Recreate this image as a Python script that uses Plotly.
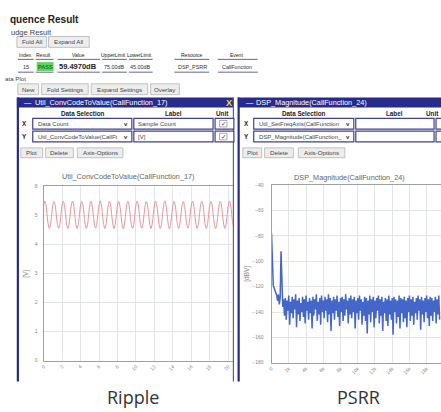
import plotly.graph_objects as go

W, H = 441, 412
UI = "Liberation Sans, Arial, sans-serif"

# ---------------- data ----------------
ripple_v = [
    5.35,5.49,5.36,5.02,4.68,4.55,4.69,5.03,
    5.36,5.48,5.35,5.01,4.69,4.56,4.68,5.02,
    5.35,5.49,5.34,5.03,4.69,4.55,4.70,5.02,
    5.36,5.49,5.35,5.02,4.68,4.54,4.69,5.01,
    5.35,5.48,5.36,5.03,4.69,4.55,4.68,5.02,
    5.34,5.49,5.35,5.02,4.70,4.56,4.69,5.03,
    5.35,5.50,5.36,5.01,4.69,4.55,4.68,5.02,
    5.36,5.49,5.35,5.02,4.68,4.55,4.69,5.02,
    5.35,5.48,5.34,5.03,4.69,4.54,4.70,5.01,
    5.36,5.49,5.35,5.02,4.69,4.55,4.69,5.02,
    5.35,5.49,5.36,5.02,4.68,4.56,4.68,5.03,
    5.34,5.48,5.35,5.01,4.69,4.55,4.69,5.02,
    5.36,5.49,5.35,5.03,4.70,4.55,4.68,5.02,
    5.35,5.50,5.36,5.02,4.69,4.54,4.69,5.01,
    5.35,5.49,5.35,5.02,4.68,4.55,4.70,5.02,
    5.36,5.48,5.34,5.03,4.69,4.56,4.69,5.02,
    5.35,5.49,5.35,5.02,4.69,4.55,4.68,5.01,
    5.34,5.49,5.36,5.02,4.68,4.55,4.69,5.03,
    5.36,5.48,5.35,5.01,4.69,4.54,4.69,5.02,
    5.35,5.49,5.36,5.02,4.70,4.55,4.68,5.02,
    5.35,5.49,5.35,5.03,4.69,4.56,4.69,5.02,
]
ripple_step = 0.125
ripple_xticks = [0, 2, 4, 6, 8, 10, 12, 14, 16, 18, 20]
ripple_yticks = [0, 1, 2, 3, 4, 5, 6]

psrr_db = [
    -78,-113,-119,-121,-123,-126,-127,-131,-126,-134,-129,-92,-127,-136,-130,-143,
    -129,-146,-131,-139,-127,-150,-132,-141,-128,-145,-130,-138,-126,-152,-131,-142,-129,-147,-133,-140,
    -128,-144,-130,-149,-127,-139,-132,-146,-129,-141,-131,-153,-128,-143,-130,-138,-126,-147,-132,-142,
    -129,-150,-127,-140,-131,-145,-128,-139,-130,-148,-126,-142,-129,-155,-131,-141,-128,-146,-130,-139,
    -127,-144,-132,-151,-129,-140,-128,-147,-130,-143,-126,-138,-131,-149,-129,-142,-127,-145,-130,-140,
    -128,-153,-131,-141,-129,-146,-127,-139,-130,-150,-132,-143,-128,-147,-129,-157,-131,-142,-127,-148,
    -130,-140,-128,-152,-131,-145,-129,-139,-127,-149,-130,-143,-128,-155,-132,-141,-129,-147,-130,-151,
    -127,-142,-131,-146,-129,-158,-128,-140,-130,-149,-131,-144,-127,-153,-129,-141,-130,-148,-128,-145,
    -131,-152,-129,-140,-127,-147,-130,-143,-128,-150,-132,-141,-129,-146,-127,-139,-130,-154,-128,-142,
    -131,-148,-129,-140,-127,-145,-130,-151,-128,-143,-129,-147,-131,-140,-128,-149,-130,-142,-127,-146,
]
psrr_step = 0.1
psrr_xticks = [0, 2, 4, 6, 8, 10, 12, 14, 16, 18]
psrr_xtext = ["0", "2k", "4k", "6k", "8k", "10k", "12k", "14k", "16k", "18k"]
psrr_yticks = [-40, -60, -80, -100, -120, -140, -160, -180]

result_headers = ["Index", "Result", "Value", "UpperLimit", "LowerLimit", "Resource", "Event"]
result_row = ["15", "PASS", "59.4970dB", "75.00dB", "45.00dB", "DSP_PSRR", "CallFunction"]

# ---------------- helpers ----------------
def X(p): return p / W
def Y(p): return 1 - p / H

shapes, annos = [], []

def rect(x0, y0, x1, y1, fill, lc=None, lw=1.0):
    shapes.append(dict(type="rect", xref="paper", yref="paper", layer="below",
                       x0=X(x0), x1=X(x1), y0=Y(y1), y1=Y(y0), fillcolor=fill,
                       line=dict(color=lc if lc else "rgba(0,0,0,0)", width=lw if lc else 0)))

def hline(x0, x1, y, color, w=1.0):
    shapes.append(dict(type="line", xref="paper", yref="paper", layer="below",
                       x0=X(x0), x1=X(x1), y0=Y(y), y1=Y(y), line=dict(color=color, width=w)))

def vline(x, y0, y1, color, w=1.0):
    shapes.append(dict(type="line", xref="paper", yref="paper", layer="below",
                       x0=X(x), x1=X(x), y0=Y(y0), y1=Y(y1), line=dict(color=color, width=w)))

def txt(x, y, s, size=6, color="#333", anchor="left", bold=False, family=UI, angle=0):
    annos.append(dict(xref="paper", yref="paper", x=X(x), y=Y(y), showarrow=False,
                      text=("<b>%s</b>" % s) if bold else s, xanchor=anchor, yanchor="middle",
                      textangle=angle, borderpad=0,
                      font=dict(size=size, color=color, family=family)))

def button(x0, y0, x1, y1, label):
    rect(x0, y0, x1, y1, "#ededed", "#b4b4b4", 0.8)
    txt((x0 + x1) / 2, (y0 + y1) / 2, label, 6.2, "#444", "center")

NAVY = "#272c8c"
CELL = "#3e4290"

# ---------------- top section ----------------
txt(5, 17, "quence Result", 10, "#222", bold=True)
txt(6, 29.5, "udge Result", 7.5, "#444")
button(13, 34, 43, 45, "Fold All")
button(45, 34, 86, 45, "Expand All")

col_c = [22, 40, 75, 111, 137, 190, 235]
col_span = [(14, 30), (32, 50), (54, 97), (99, 124), (126, 150), (172, 207), (216, 256)]
for c, h in zip(col_c, result_headers):
    txt(c, 52.5, h, 5.0, "#1a1a1a", "center")
for a, b in col_span:
    hline(a, b, 57.2, "#55577a", 0.9)
    hline(a, b, 70.2, "#55577a", 0.9)
rect(33, 60, 50, 69, "#5dd65d")
for i, (c, v) in enumerate(zip(col_c, result_row)):
    if i == 1:
        txt(c + 1.5, 64.6, v, 5.6, "#2d6b2d", "center", bold=True)
    elif i == 2:
        txt(c, 64.6, v, 7.5, "#222", "center", bold=True)
    else:
        txt(c, 64.6, v, 5.4, "#333", "center")

txt(0, 76.5, "ata Plot", 6.2, "#444")
button(14, 82, 35, 93, "New")
button(38, 82, 85, 93, "Fold Settings")
button(88, 82, 145, 93, "Expand Settings")
button(148, 82, 177, 93, "Overlay")

# ---------------- panels ----------------
rect(13, 96, 232, 384, "#ffffff")
rect(236, 96, 441, 384, "#ffffff")
rect(13, 96, 232, 106, NAVY)
rect(236, 96, 441, 106, NAVY)
vline(14, 96, 384, NAVY, 2.2)
vline(231.5, 96, 384, "#5b5f9e", 1.2)
vline(236.8, 96, 384, NAVY, 2.2)

txt(19, 101, "—", 7.3, "#ffffff")
txt(30, 101, "Util_ConvCodeToValue(CallFunction_17)", 7.3, "#ffffff")
txt(227, 101, "X", 9, "#f2e41c", "center", bold=True)
txt(243, 101, "—", 7.3, "#ffffff")
txt(253, 101, "DSP_Magnitude(CallFunction_24)", 7.3, "#ffffff")

# left data selection table
txt(80, 112, "Data Selection", 6.3, "#222", "center", bold=True)
txt(171, 112, "Label", 6.3, "#222", "center", bold=True)
txt(221, 112, "Unit", 6.3, "#222", "center", bold=True)
for (y0, y1, axl, sel, lab) in [(117, 128, "X", "Data Count", "Sample Count"),
                                (130, 141, "Y", "Util_ConvCodeToValue(CallFt", "[V]")]:
    yc = (y0 + y1) / 2
    txt(21, yc, axl, 6.3, "#222", "center", bold=True)
    rect(29, y0, 129, y1, "#ffffff", CELL, 1.2)
    txt(33, yc, sel, 6, "#444")
    txt(123, yc, "v", 6, "#333", "center", bold=True)
    rect(131, y0, 211, y1, "#ffffff", CELL, 1.2)
    txt(134, yc, lab, 6, "#444")
    rect(213, y0, 232, y1, "#ffffff", CELL, 1.2)
    rect(217.5, y0 + 2.2, 225, y1 - 2.2, "#ffffff", "#8a8a8a", 0.7)
    txt(221.3, yc, "✓", 6.5, "#333", "center", family="DejaVu Sans")
button(17, 147, 39, 157, "Plot")
button(42, 147, 70, 157, "Delete")
button(74, 147, 120, 157, "Axis-Options")

# right data selection table
txt(303, 112, "Data Selection", 6.3, "#222", "center", bold=True)
txt(394, 112, "Label", 6.3, "#222", "center", bold=True)
txt(440, 112, "Unit", 6.3, "#222", "right", bold=True)
for (y0, y1, axl, sel) in [(117, 128, "X", "Util_SetFreqAxis(CallFunction"),
                           (130, 141, "Y", "DSP_Magnitude(CallFunction_")]:
    yc = (y0 + y1) / 2
    txt(245, yc, axl, 6.3, "#222", "center", bold=True)
    rect(252, y0, 353, y1, "#ffffff", CELL, 1.2)
    txt(256, yc, sel, 6, "#444")
    txt(347, yc, "v", 6, "#333", "center", bold=True)
    rect(355, y0, 434, y1, "#ffffff", CELL, 1.2)
    rect(436, y0, 448, y1, "#ffffff", CELL, 1.2)
button(241, 147, 260, 157, "Plot")
button(263, 147, 292, 157, "Delete")
button(297, 147, 344, 157, "Axis-Options")

# chart titles and axis titles
txt(126, 176.5, "Util_ConvCodeToValue(CallFunction_17)", 7.3, "#666", "center")
txt(349, 177, "DSP_Magnitude(CallFunction_24)", 7.3, "#666", "center")
txt(22, 275, "[V]", 6.5, "#888", "center", angle=-90)
txt(245, 275, "[dBV]", 6.5, "#888", "center", angle=-90)

# bottom captions
txt(130, 400, "Ripple", 18, "#333", "center", family="Open Sans, sans-serif")
txt(358, 400, "PSRR", 18, "#333", "center", family="Open Sans, sans-serif")

# ---------------- figure ----------------
fig = go.Figure()
fig.add_trace(go.Scatter(x0=0, dx=ripple_step, y=ripple_v, mode="lines",
                         line=dict(color="#e6929c", width=1, shape="spline"),
                         xaxis="x", yaxis="y", hoverinfo="skip"))
fig.add_trace(go.Scatter(x0=0, dx=psrr_step, y=psrr_db, mode="lines",
                         line=dict(color="#4466c8", width=1.5),
                         xaxis="x2", yaxis="y2", hoverinfo="skip"))

grid = "#e2e6ea"
axline = "#a0a0a0"
tickf = dict(size=5, color="#888", family=UI)

fig.update_layout(
    width=W, height=H, autosize=False,
    margin=dict(l=0, r=0, t=0, b=0),
    paper_bgcolor="#ffffff", plot_bgcolor="rgba(0,0,0,0)",
    showlegend=False,
    shapes=shapes, annotations=annos,
    xaxis=dict(domain=[X(40), X(231)], range=[0, 20.5], tickvals=ripple_xticks,
               ticktext=[str(v) for v in ripple_xticks], tickangle=-45, tickfont=tickf,
               showgrid=True, gridcolor=grid, gridwidth=0.8, showline=True, linecolor=axline,
               linewidth=1, mirror=True, zeroline=False, ticks="", anchor="y", fixedrange=True),
    yaxis=dict(domain=[Y(363), Y(186)], range=[0, 6], tickvals=ripple_yticks,
               tickfont=tickf, showgrid=True, gridcolor=grid, gridwidth=0.8, showline=True,
               linecolor=axline, linewidth=1, zeroline=False, ticks="", anchor="x",
               ticklabelstandoff=4, fixedrange=True),
    xaxis2=dict(domain=[X(270), 1], range=[0, 19.66], tickvals=psrr_xticks, ticktext=psrr_xtext,
                tickangle=-45, tickfont=tickf, showgrid=True, gridcolor=grid, gridwidth=0.8,
                showline=True, linecolor=axline, linewidth=1, mirror=True, zeroline=False,
                ticks="", anchor="y2", fixedrange=True),
    yaxis2=dict(domain=[Y(365), Y(185)], range=[-180, -40], tickvals=psrr_yticks,
                tickfont=tickf, showgrid=True, gridcolor=grid, gridwidth=0.8, showline=True,
                linecolor=axline, linewidth=1, zeroline=False, ticks="", anchor="x2",
                ticklabelstandoff=6, fixedrange=True),
)

fig.write_html("out.html", config={"displayModeBar": False},
               post_script="document.body.style.margin='0';document.body.style.overflow='hidden';")
